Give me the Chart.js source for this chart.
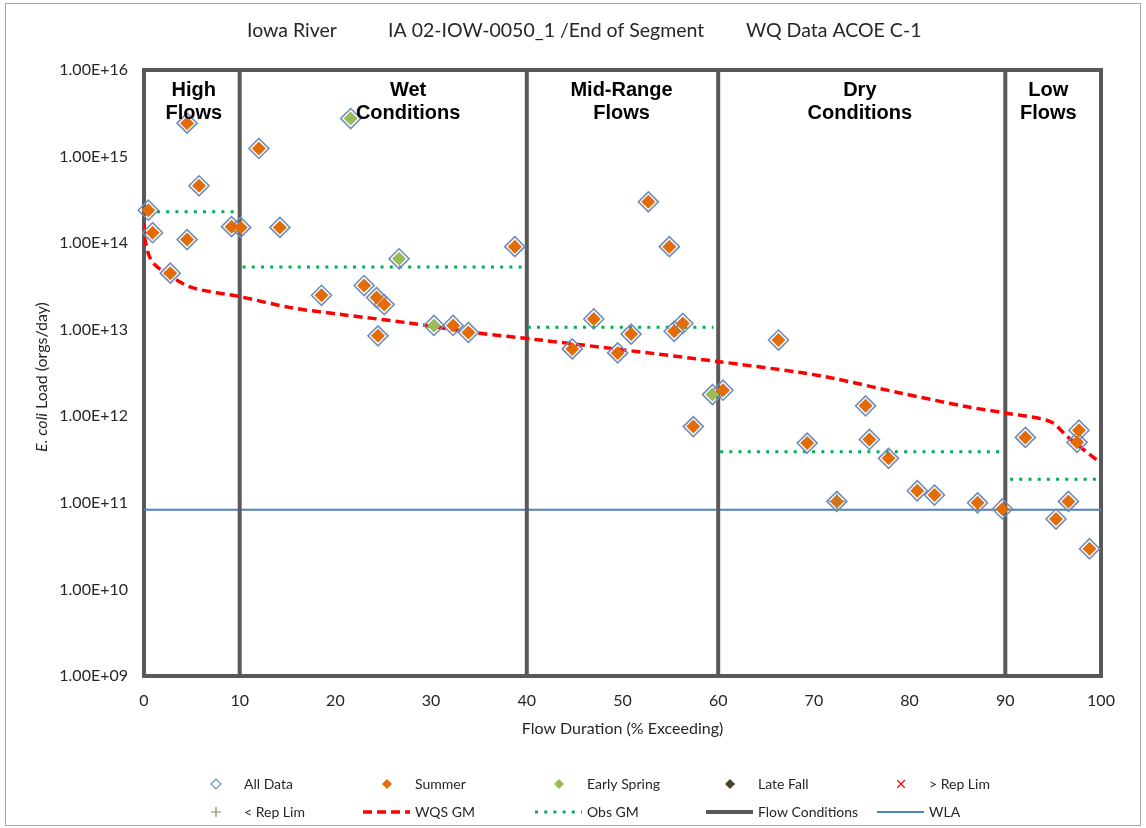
<!DOCTYPE html>
<html>
<head>
<meta charset="utf-8">
<title>Iowa River - E. coli Load Duration Curve</title>
<script src="https://cdn.jsdelivr.net/npm/chart.js@4.4.1/dist/chart.umd.min.js"></script>
<style>
  html, body { margin: 0; padding: 0; background: #fff; }
  #wrap { position: relative; width: 1146px; height: 828px; }
</style>
</head>
<body>
<div id="wrap"><canvas id="ldcChart" width="1146" height="828"></canvas></div>
<script>
// Samples: flow duration (% exceeding) and E. coli load (orgs/day)
const summerX = [0.45, 0.9, 2.75, 4.5, 4.5, 5.75, 9.15, 10.1, 12.0, 14.2, 18.55, 23.0, 24.3, 25.1, 24.45,
                 32.3, 33.9, 38.75, 44.75, 47.0, 49.5, 50.9, 52.7, 54.9, 55.4, 56.3, 57.4, 60.5, 66.3,
                 69.3, 72.4, 75.4, 75.8, 77.8, 80.8, 82.6, 87.1, 89.7, 92.1, 95.3, 96.6, 97.5, 97.7, 98.8];
const summerY = [2.4e14, 1.32e14, 4.5e13, 2.43e15, 1.1e14, 4.6e14, 1.55e14, 1.52e14, 1.24e15, 1.52e14, 2.5e13,
                 3.24e13, 2.35e13, 1.95e13, 8.5e12, 1.12e13, 9.3e12, 9.1e13, 6.0e12, 1.33e13, 5.4e12, 8.9e12,
                 3.0e14, 9.1e13, 9.6e12, 1.18e13, 7.6e11, 2.0e12, 7.6e12, 4.9e11, 1.04e11, 1.32e12, 5.4e11,
                 3.27e11, 1.38e11, 1.23e11, 1.0e11, 8.5e10, 5.7e11, 6.5e10, 1.04e11, 5.0e11, 6.9e11, 2.95e10];
const springX = [21.6, 26.65, 30.3, 59.4];
const springY = [2.75e15, 6.6e13, 1.12e13, 1.78e12];
const lateFallX = [];
const lateFallY = [];
const aboveRepX = [];
const aboveRepY = [];
const belowRepX = [72.4];
const belowRepY = [1.04e11];

// Water quality standard geometric mean curve
const wqsX = [0, 0.1, 0.7, 1.8, 4.9, 10.1, 15.3, 20.6, 27.6, 34.4, 41.4, 49.8, 59.9, 68.6, 72.0,
              79.0, 86.0, 89.8, 94.7, 96.5, 99.6];
const wqsY = [1.7e14, 1.1e14, 6.5e13, 4.9e13, 3.1e13, 2.4e13, 1.8e13, 1.5e13, 1.2e13, 9.3e12, 7.6e12,
              5.9e12, 4.3e12, 3.2e12, 2.75e12, 1.86e12, 1.29e12, 1.1e12, 8.7e11, 5.8e11, 3.1e11];

// Observed geometric mean per flow condition
const obsStart = [0.4, 10.3, 40.1, 60.2, 90.5];
const obsEnd = [9.8, 39.6, 59.5, 89.7, 99.6];
const obsValue = [2.3e14, 5.3e13, 1.07e13, 3.9e11, 1.87e11];

const flowBreaks = [10, 40, 60, 90];
const wlaValue = 8.3e10;

const regionNames = [['High', 'Flows'], ['Wet', 'Conditions'], ['Mid-Range', 'Flows'], ['Dry', 'Conditions'], ['Low', 'Flows']];
const regionCenters = [5.2, 27.6, 49.9, 74.8, 94.5];

const xTicks = [0, 10, 20, 30, 40, 50, 60, 70, 80, 90, 100];
const yTicks = [1e9, 1e10, 1e11, 1e12, 1e13, 1e14, 1e15, 1e16];

const titleParts = ['Iowa River', 'IA 02-IOW-0050_1 /End of Segment', 'WQ Data ACOE C-1'];

const FONT = 'Lato, "Open Sans", sans-serif';
const TEXT = '#262626';

function toPoints(xs, ys) {
    return xs.map((x, i) => ({ x: x, y: ys[i] }));
}

const allX = summerX.concat(springX, lateFallX);
const allY = summerY.concat(springY, lateFallY);

// Horizontal segments separated by gaps
const obsPoints = [];
obsStart.forEach((s, i) => {
    obsPoints.push({ x: s, y: obsValue[i] }, { x: obsEnd[i], y: obsValue[i] }, { x: obsEnd[i], y: null });
});

const flowPoints = [];
flowBreaks.forEach(b => {
    flowPoints.push({ x: b, y: yTicks[0] }, { x: b, y: yTicks[yTicks.length - 1] }, { x: b, y: null });
});

const datasets = [{
    label: 'All Data',
    data: toPoints(allX, allY),
    pointStyle: 'rectRot',
    pointRadius: 10,
    pointBorderWidth: 1.6,
    borderColor: '#6F8DBA',
    backgroundColor: 'rgba(255,255,255,0)',
    order: 2,
    clip: false
}, {
    label: 'Summer',
    data: toPoints(summerX, summerY),
    pointStyle: 'rectRot',
    pointRadius: 7,
    pointBorderWidth: 0,
    borderColor: '#E36C0A',
    backgroundColor: '#E36C0A',
    order: 1,
    clip: false
}, {
    label: 'Early Spring',
    data: toPoints(springX, springY),
    pointStyle: 'rectRot',
    pointRadius: 7,
    pointBorderWidth: 0,
    borderColor: '#9BBB59',
    backgroundColor: '#9BBB59',
    order: 1,
    clip: false
}, {
    label: 'Late Fall',
    data: toPoints(lateFallX, lateFallY),
    pointStyle: 'rectRot',
    pointRadius: 7,
    pointBorderWidth: 0,
    borderColor: '#4A452A',
    backgroundColor: '#4A452A',
    order: 1,
    clip: false
}, {
    label: '> Rep Lim',
    data: toPoints(aboveRepX, aboveRepY),
    pointStyle: 'crossRot',
    pointRadius: 7,
    pointBorderWidth: 1.2,
    borderColor: '#FF0000',
    backgroundColor: '#FF0000',
    order: 0,
    clip: false
}, {
    label: '< Rep Lim',
    data: toPoints(belowRepX, belowRepY),
    pointStyle: 'cross',
    pointRadius: 8,
    pointBorderWidth: 1.2,
    borderColor: '#948A54',
    backgroundColor: '#948A54',
    order: 0,
    clip: false
}, {
    label: 'WQS GM',
    data: toPoints(wqsX, wqsY),
    showLine: true,
    pointRadius: 0,
    borderColor: '#FF0000',
    borderWidth: 3.5,
    borderDash: [9, 5],
    tension: 0.3,
    order: 3
}, {
    label: 'Obs GM',
    data: obsPoints,
    showLine: true,
    spanGaps: false,
    pointRadius: 0,
    borderColor: '#00B050',
    borderWidth: 3,
    borderDash: [3, 6.2],
    order: 4
}, {
    label: 'Flow Conditions',
    data: flowPoints,
    showLine: true,
    spanGaps: false,
    pointRadius: 0,
    borderColor: '#595959',
    borderWidth: 4,
    order: 5
}, {
    label: 'WLA',
    data: [{ x: 0, y: wlaValue }, { x: 100, y: wlaValue }],
    showLine: true,
    pointRadius: 0,
    borderColor: '#4F81BD',
    borderWidth: 2,
    order: 6
}];

function drawMarker(ctx, ds, x, y, r) {
    ctx.save();
    ctx.strokeStyle = ds.borderColor;
    ctx.fillStyle = ds.backgroundColor;
    ctx.lineWidth = 1.2;
    ctx.beginPath();
    if (ds.pointStyle === 'rectRot') {
        ctx.moveTo(x - r, y); ctx.lineTo(x, y - r); ctx.lineTo(x + r, y); ctx.lineTo(x, y + r);
        ctx.closePath();
        ctx.fill();
        if (ds.pointBorderWidth > 0) ctx.stroke();
    } else if (ds.pointStyle === 'cross') {
        ctx.moveTo(x - r, y); ctx.lineTo(x + r, y);
        ctx.moveTo(x, y - r); ctx.lineTo(x, y + r);
        ctx.stroke();
    } else {
        const d = r * 0.75;
        ctx.moveTo(x - d, y - d); ctx.lineTo(x + d, y + d);
        ctx.moveTo(x + d, y - d); ctx.lineTo(x - d, y + d);
        ctx.stroke();
    }
    ctx.restore();
}

function drawLegendLine(ctx, ds, x1, x2, y) {
    ctx.save();
    ctx.strokeStyle = ds.borderColor;
    ctx.lineWidth = ds.borderWidth;
    ctx.setLineDash(ds.borderDash || []);
    ctx.beginPath();
    ctx.moveTo(x1, y);
    ctx.lineTo(x2, y);
    ctx.stroke();
    ctx.restore();
}

const decorations = {
    id: 'decorations',
    beforeDraw(chart) {
        const ctx = chart.ctx;
        ctx.save();
        ctx.fillStyle = '#fff';
        ctx.fillRect(0, 0, chart.width, chart.height);
        ctx.strokeStyle = '#A6A6A6';
        ctx.lineWidth = 1;
        ctx.strokeRect(5.5, 3.5, chart.width - 11, chart.height - 6);

        // title pieces
        ctx.fillStyle = TEXT;
        ctx.font = '19.5px ' + FONT;
        ctx.textBaseline = 'middle';
        ctx.textAlign = 'left';
        const titleX = [247, 388, 746];
        titleParts.forEach((t, i) => ctx.fillText(t, titleX[i], 31));

        // y axis title, "E. coli" in italics
        ctx.translate(42, 377);
        ctx.rotate(-Math.PI / 2);
        ctx.font = 'italic 16px ' + FONT;
        const w1 = ctx.measureText('E. coli').width;
        ctx.font = '16px ' + FONT;
        const w2 = ctx.measureText(' Load (orgs/day)').width;
        let start = -(w1 + w2) / 2;
        ctx.font = 'italic 16px ' + FONT;
        ctx.fillText('E. coli', start, 0);
        ctx.font = '16px ' + FONT;
        ctx.fillText(' Load (orgs/day)', start + w1, 0);
        ctx.restore();
    },
    beforeDatasetsDraw(chart) {
        const { ctx, chartArea } = chart;
        ctx.save();
        ctx.strokeStyle = '#595959';
        ctx.lineWidth = 4;
        ctx.strokeRect(chartArea.left, chartArea.top, chartArea.right - chartArea.left, chartArea.bottom - chartArea.top);
        ctx.restore();
    },
    afterDatasetsDraw(chart) {
        const ctx = chart.ctx;
        const xs = chart.scales.x;
        ctx.save();
        ctx.fillStyle = '#000';
        ctx.font = 'bold 20px "Liberation Sans", Arial, sans-serif';
        ctx.textAlign = 'center';
        ctx.textBaseline = 'middle';
        regionNames.forEach((lines, i) => {
            const cx = xs.getPixelForValue(regionCenters[i]);
            ctx.fillText(lines[0], cx, 90);
            ctx.fillText(lines[1], cx, 113);
        });
        ctx.restore();
    },
    afterDraw(chart) {
        const ctx = chart.ctx;
        const cols = [216, 387, 559, 730, 901];
        const rows = [784, 812];
        ctx.save();
        ctx.font = '14px ' + FONT;
        ctx.textBaseline = 'middle';
        ctx.textAlign = 'left';
        chart.data.datasets.forEach((ds, i) => {
            const cx = cols[i % 5];
            const cy = rows[Math.floor(i / 5)];
            if (ds.showLine) {
                drawLegendLine(ctx, ds, cx - 24, cx + 23, cy);
                ctx.fillStyle = TEXT;
                ctx.fillText(ds.label, cx + 28, cy);
            } else {
                drawMarker(ctx, ds, cx, cy, 5);
                ctx.fillStyle = TEXT;
                ctx.fillText(ds.label, cx + 28, cy);
            }
        });
        ctx.restore();
    }
};

new Chart(document.getElementById('ldcChart').getContext('2d'), {
    type: 'scatter',
    data: { datasets: datasets },
    options: {
        responsive: false,
        animation: false,
        events: [],
        layout: { padding: { top: 70, right: 45, bottom: 0, left: 0 } },
        plugins: {
            legend: { display: false },
            title: { display: false },
            tooltip: { enabled: false }
        },
        scales: {
            x: {
                type: 'linear',
                min: 0,
                max: 100,
                afterBuildTicks: s => { s.ticks = xTicks.map(v => ({ value: v })); },
                afterFit: s => { s.height = 152; },
                grid: { display: false, drawTicks: false },
                border: { display: false },
                ticks: {
                    autoSkip: false,
                    maxRotation: 0,
                    padding: 15,
                    color: TEXT,
                    font: { family: FONT, size: 16 }
                },
                title: {
                    display: true,
                    text: 'Flow Duration (% Exceeding)',
                    color: TEXT,
                    font: { family: FONT, size: 16 },
                    padding: { top: 0, bottom: 90 }
                }
            },
            y: {
                type: 'logarithmic',
                min: 1e9,
                max: 1e16,
                afterBuildTicks: s => { s.ticks = yTicks.map(v => ({ value: v })); },
                afterFit: s => { s.width = 144; },
                grid: { display: false, drawTicks: false },
                border: { display: false },
                ticks: {
                    padding: 16,
                    color: TEXT,
                    font: { family: FONT, size: 16 },
                    callback: v => '1.00E+' + String(Math.round(Math.log10(v))).padStart(2, '0')
                }
            }
        }
    },
    plugins: [decorations]
});
</script>
</body>
</html>
